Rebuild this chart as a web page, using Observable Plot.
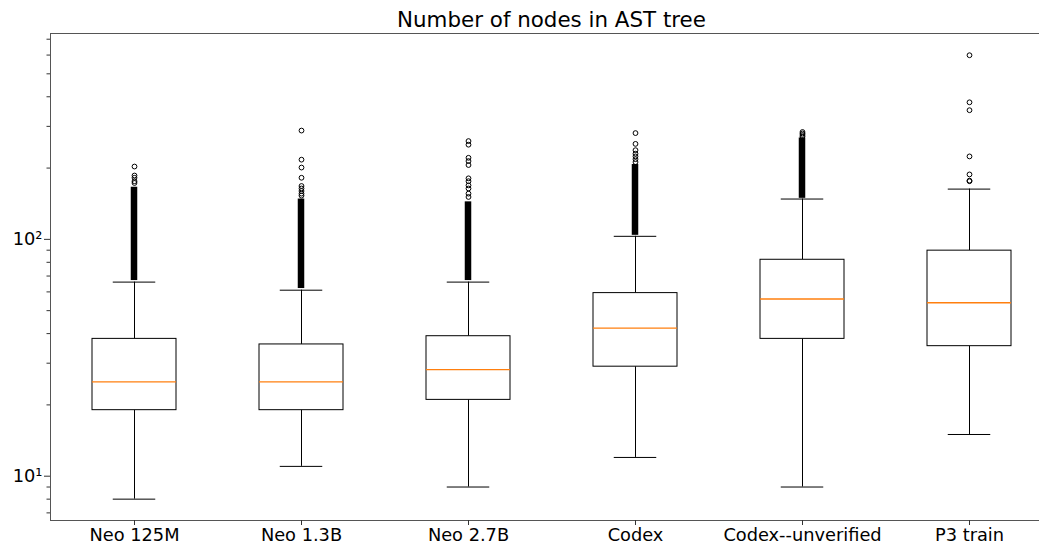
<!DOCTYPE html>
<html>
<head>
<meta charset="utf-8">
<script src="https://cdn.jsdelivr.net/npm/d3@7"></script>
<script src="https://cdn.jsdelivr.net/npm/@observablehq/plot@0.6"></script>
<style>
  html, body { margin: 0; padding: 0; background: white; overflow: hidden; }
  #chart svg { overflow: hidden; }
</style>
</head>
<body>
<div id="chart"></div>
<script>
const title = "Number of nodes in AST tree";
const categories = ["Neo 125M", "Neo 1.3B", "Neo 2.7B", "Codex", "Codex--unverified", "P3 train"];
const whiskerLow = [8, 11, 9, 12, 9, 15];
const q1 = [19, 19, 21, 29, 38, 35.4];
const median = [25, 25, 28.2, 42.2, 56, 54];
const q3 = [38, 36, 39, 59.3, 82, 89.6];
const whiskerHigh = [66, 61, 66, 103, 148, 163];
// outliers so dense (every integer count) that they form a solid column
const denseLow = [67, 62, 67, 104, 149, null];
const denseHigh = [166, 148, 144, 207, 268, null];
// sparse outliers
const outliers = [
  [173, 176, 182, 186, 203],
  [153, 156, 160, 164, 168, 182, 201, 217, 288],
  [151, 156, 164, 169, 176, 181, 206, 214, 221, 251, 260],
  [212, 218, 224, 230, 238, 253, 281],
  [272, 276, 280, 284],
  [176, 177, 188, 224, 351, 379, 599]
];
const yMajorTicks = [10, 100];
const yMajorLabels = ["10\u00B9", "10\u00B2"];
const yMinorTicks = [7, 8, 9, 20, 30, 40, 50, 60, 70, 80, 90, 200, 300, 400, 500, 600, 700];
const yDomain = [6.5, 740];

const stats = categories.map((c, i) => ({
  cat: c, lo: whiskerLow[i], q1: q1[i], med: median[i], q3: q3[i], hi: whiskerHigh[i],
  dLo: denseLow[i], dHi: denseHigh[i]
}));
const dense = stats.filter(d => d.dLo != null);
const outlierPts = categories.flatMap((c, i) => outliers[i].map(v => ({cat: c, v})));

const bandwidth = 83.5;
const capInset = (bandwidth - 42) / 2;
const colInset = (bandwidth - 6) / 2;
const tickFont = 17.8;

const marks = [
  Plot.ruleX(stats, {x: "cat", y1: "q3", y2: "hi", stroke: "black", strokeWidth: 1}),
  Plot.ruleX(stats, {x: "cat", y1: "q1", y2: "lo", stroke: "black", strokeWidth: 1}),
  Plot.tickY(stats, {x: "cat", y: "hi", stroke: "black", strokeWidth: 1, insetLeft: capInset, insetRight: capInset}),
  Plot.tickY(stats, {x: "cat", y: "lo", stroke: "black", strokeWidth: 1, insetLeft: capInset, insetRight: capInset}),
  Plot.barY(stats, {x: "cat", y1: "q1", y2: "q3", fill: "white", stroke: "black", strokeWidth: 1}),
  Plot.tickY(stats, {x: "cat", y: "med", stroke: "#ff7f0e", strokeWidth: 1.3}),
  Plot.barY(dense, {x: "cat", y1: "dLo", y2: "dHi", fill: "black", insetLeft: colInset, insetRight: colInset}),
  Plot.dot(outlierPts, {x: "cat", y: "v", r: 2.4, stroke: "black", fill: "none", strokeWidth: 1}),
  Plot.frame({stroke: "#555", strokeWidth: 1}),
  Plot.text([title], {frameAnchor: "top", lineAnchor: "middle", dy: -13.5, fontSize: 21.4, fill: "black"})
];

const hasAxisMarks = typeof Plot.axisY === "function";
if (hasAxisMarks) {
  marks.push(
    Plot.axisX({tickSize: 5, tickPadding: 3, fontSize: tickFont, stroke: "#333", fill: "black"}),
    Plot.axisY(yMajorTicks, {tickSize: 6, tickPadding: 2, fontSize: tickFont, tickFormat: (d) => yMajorLabels[yMajorTicks.indexOf(d)], stroke: "#333", fill: "black"}),
    Plot.axisY(yMinorTicks, {tickSize: 3.5, tickFormat: () => "", stroke: "#333"})
  );
}

const chart = Plot.plot({
  width: 1039,
  height: 544,
  marginTop: 33,
  marginBottom: 24,
  marginLeft: 50,
  marginRight: -13,
  style: {fontFamily: "DejaVu Sans", fontSize: tickFont + "px", color: "black", background: "white"},
  x: {domain: categories, paddingInner: 0.5, paddingOuter: 0.25, label: null, axis: hasAxisMarks ? null : "bottom"},
  y: {type: "log", domain: yDomain, label: null, axis: hasAxisMarks ? null : "left",
      ticks: yMajorTicks, tickFormat: d => yMajorLabels[yMajorTicks.indexOf(d)] || ""},
  marks
});
document.getElementById("chart").appendChild(chart);
</script>
</body>
</html>
